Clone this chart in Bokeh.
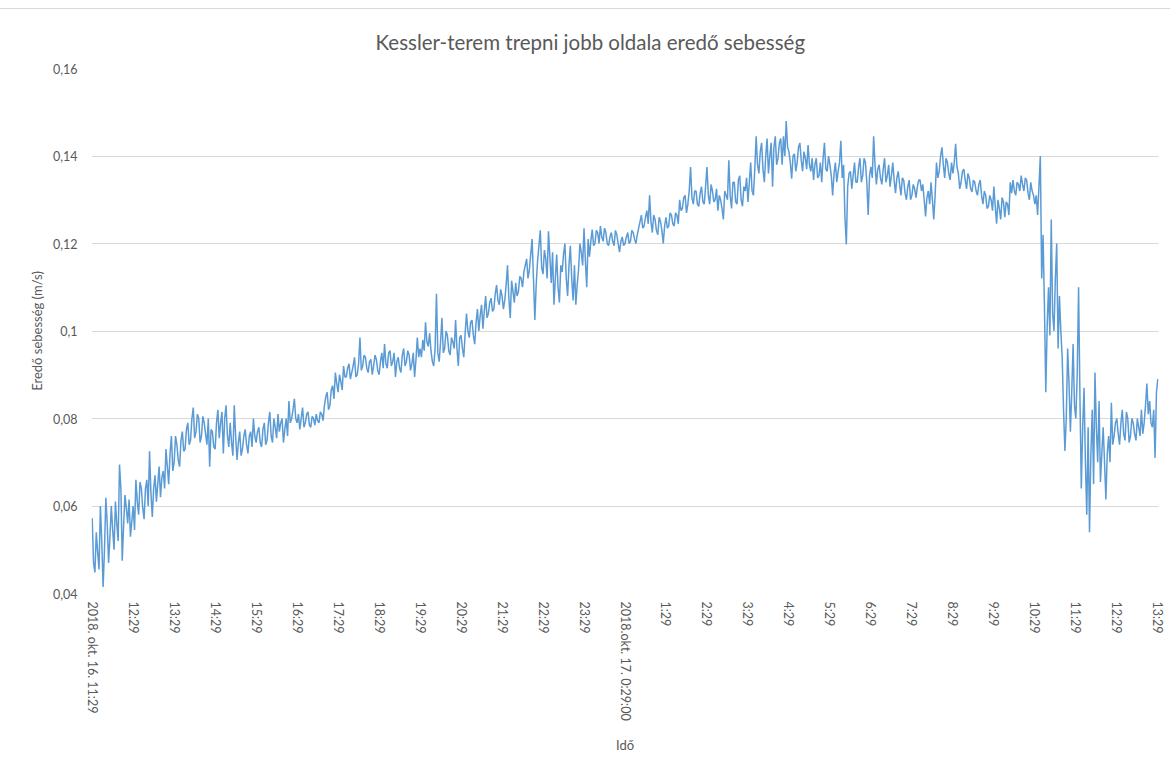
from bokeh.plotting import figure
from bokeh.models import Range1d, FixedTicker, ColumnDataSource, Div
from bokeh.layouts import column
from bokeh.embed import file_html
from bokeh.resources import INLINE

# Resultant air speed (m/s), one reading every 2 minutes from 2018-10-16 11:29;
# each pair of rows holds one hour of readings
speed_oct16 = [
    0.0572, 0.0470, 0.0448, 0.0540, 0.0495, 0.0455, 0.0600, 0.0520, 0.0415, 0.0500, 0.0619, 0.0560, 0.0470, 0.0530, 0.0600,
    0.0545, 0.0500, 0.0610, 0.0560, 0.0520, 0.0695, 0.0640, 0.0475, 0.0555, 0.0625, 0.0595, 0.0560, 0.0615, 0.0530, 0.0565,
    0.0600, 0.0545, 0.0660, 0.0610, 0.0580, 0.0655, 0.0640, 0.0595, 0.0570, 0.0640, 0.0660, 0.0600, 0.0725, 0.0630, 0.0575,
    0.0640, 0.0670, 0.0610, 0.0650, 0.0690, 0.0620, 0.0665, 0.0680, 0.0640, 0.0730, 0.0690, 0.0650, 0.0720, 0.0760, 0.0680,
    0.0700, 0.0760, 0.0740, 0.0705, 0.0690, 0.0750, 0.0770, 0.0725, 0.0730, 0.0775, 0.0790, 0.0740, 0.0750, 0.0800, 0.0825,
    0.0755, 0.0770, 0.0810, 0.0800, 0.0745, 0.0760, 0.0805, 0.0790, 0.0765, 0.0740, 0.0800, 0.0690, 0.0775, 0.0770, 0.0735,
    0.0730, 0.0790, 0.0820, 0.0755, 0.0790, 0.0815, 0.0720, 0.0800, 0.0830, 0.0760, 0.0735, 0.0790, 0.0745, 0.0715, 0.0830,
    0.0760, 0.0705, 0.0745, 0.0770, 0.0715, 0.0730, 0.0760, 0.0775, 0.0740, 0.0720, 0.0760, 0.0770, 0.0735, 0.0800, 0.0760,
    0.0745, 0.0770, 0.0780, 0.0745, 0.0735, 0.0775, 0.0790, 0.0740, 0.0750, 0.0790, 0.0815, 0.0760, 0.0745, 0.0800, 0.0780,
    0.0755, 0.0810, 0.0770, 0.0790, 0.0800, 0.0745, 0.0775, 0.0800, 0.0760, 0.0840, 0.0790, 0.0800, 0.0820, 0.0845, 0.0800,
    0.0790, 0.0810, 0.0775, 0.0800, 0.0825, 0.0780, 0.0790, 0.0810, 0.0815, 0.0785, 0.0780, 0.0805, 0.0800, 0.0785, 0.0810,
    0.0795, 0.0790, 0.0815, 0.0810, 0.0795, 0.0830, 0.0850, 0.0860, 0.0820, 0.0830, 0.0865, 0.0875, 0.0845, 0.0905, 0.0880,
    0.0860, 0.0900, 0.0885, 0.0865, 0.0920, 0.0895, 0.0895, 0.0915, 0.0925, 0.0890, 0.0905, 0.0920, 0.0940, 0.0895, 0.0900,
    0.0925, 0.0985, 0.0910, 0.0920, 0.0945, 0.0940, 0.0915, 0.0905, 0.0930, 0.0935, 0.0900, 0.0920, 0.0945, 0.0935, 0.0910,
    0.0900, 0.0930, 0.0950, 0.0915, 0.0970, 0.0925, 0.0915, 0.0950, 0.0955, 0.0920, 0.0930, 0.0950, 0.0895, 0.0930, 0.0940,
    0.0915, 0.0905, 0.0945, 0.0960, 0.0920, 0.0930, 0.0955, 0.0945, 0.0910, 0.0925, 0.0950, 0.0895, 0.0935, 0.0985, 0.0940,
    0.0960, 0.0940, 0.0980, 0.0955, 0.1020, 0.0975, 0.0965, 0.0995, 0.0955, 0.0930, 0.0920, 0.0960, 0.1085, 0.0950, 0.0930,
    0.0975, 0.1030, 0.0950, 0.0960, 0.1000, 0.0990, 0.0955, 0.0945, 0.0985, 0.0975, 0.0960, 0.1025, 0.0960, 0.0920, 0.0985,
    0.0990, 0.0960, 0.0940, 0.0995, 0.1040, 0.1000, 0.0985, 0.1020, 0.1025, 0.0990, 0.0970, 0.1020, 0.1050, 0.1000, 0.1035,
    0.1060, 0.1005, 0.1045, 0.1080, 0.1030, 0.1040, 0.1065, 0.1075, 0.1045, 0.1050, 0.1085, 0.1105, 0.1070, 0.1060, 0.1095,
    0.1080, 0.1050, 0.1070, 0.1105, 0.1150, 0.1075, 0.1030, 0.1115, 0.1090, 0.1065, 0.1110, 0.1080, 0.1090, 0.1125, 0.1120,
    0.1100, 0.1135, 0.1150, 0.1165, 0.1120, 0.1140, 0.1175, 0.1210, 0.1120, 0.1025, 0.1105, 0.1160, 0.1195, 0.1230, 0.1145,
    0.1130, 0.1185, 0.1165, 0.1120, 0.1228, 0.1170, 0.1110, 0.1180, 0.1060, 0.1120, 0.1175, 0.1100, 0.1065, 0.1150, 0.1135,
    0.1175, 0.1200, 0.1120, 0.1080, 0.1150, 0.1195, 0.1120, 0.1070, 0.1150, 0.1060, 0.1105, 0.1140, 0.1200, 0.1180, 0.1150,
    0.1235, 0.1160, 0.1100, 0.1210, 0.1170, 0.1205, 0.1232, 0.1195, 0.1200, 0.1230, 0.1225, 0.1200, 0.1240, 0.1215, 0.1205,
    0.1235, 0.1225, 0.1200, 0.1195, 0.1215, 0.1225, 0.1205, 0.1195, 0.1230, 0.1220, 0.1200, 0.1180, 0.1205, 0.1215, 0.1195,
]

# Continuation from 2018-10-17 0:29 to 13:29
speed_oct17 = [
    0.1200, 0.1215, 0.1225, 0.1200, 0.1205, 0.1230, 0.1225, 0.1210, 0.1200, 0.1220, 0.1235, 0.1250, 0.1265, 0.1235, 0.1240,
    0.1260, 0.1275, 0.1245, 0.1310, 0.1250, 0.1225, 0.1265, 0.1255, 0.1230, 0.1220, 0.1260, 0.1250, 0.1230, 0.1200, 0.1240,
    0.1260, 0.1235, 0.1240, 0.1270, 0.1265, 0.1245, 0.1240, 0.1270, 0.1265, 0.1245, 0.1300, 0.1275, 0.1280, 0.1305, 0.1310,
    0.1270, 0.1290, 0.1320, 0.1375, 0.1305, 0.1290, 0.1320, 0.1320, 0.1290, 0.1285, 0.1315, 0.1330, 0.1295, 0.1290, 0.1330,
    0.1375, 0.1310, 0.1290, 0.1335, 0.1320, 0.1295, 0.1300, 0.1325, 0.1275, 0.1310, 0.1300, 0.1280, 0.1255, 0.1320, 0.1310,
    0.1300, 0.1390, 0.1310, 0.1280, 0.1340, 0.1340, 0.1295, 0.1290, 0.1345, 0.1355, 0.1300, 0.1285, 0.1330, 0.1320, 0.1350,
    0.1295, 0.1340, 0.1385, 0.1320, 0.1310, 0.1370, 0.1445, 0.1380, 0.1360, 0.1410, 0.1430, 0.1370, 0.1340, 0.1400, 0.1440,
    0.1360, 0.1400, 0.1430, 0.1330, 0.1420, 0.1445, 0.1380, 0.1395, 0.1430, 0.1440, 0.1380, 0.1445, 0.1400, 0.1480, 0.1420,
    0.1410, 0.1385, 0.1348, 0.1400, 0.1405, 0.1365, 0.1385, 0.1420, 0.1430, 0.1390, 0.1365, 0.1410, 0.1395, 0.1370, 0.1425,
    0.1380, 0.1365, 0.1395, 0.1345, 0.1380, 0.1395, 0.1350, 0.1355, 0.1385, 0.1340, 0.1395, 0.1430, 0.1370, 0.1365, 0.1400,
    0.1380, 0.1355, 0.1310, 0.1360, 0.1385, 0.1340, 0.1365, 0.1385, 0.1435, 0.1350, 0.1380, 0.1260, 0.1198, 0.1330, 0.1360,
    0.1365, 0.1325, 0.1355, 0.1385, 0.1340, 0.1340, 0.1375, 0.1395, 0.1340, 0.1355, 0.1395, 0.1385, 0.1340, 0.1265, 0.1355,
    0.1375, 0.1350, 0.1445, 0.1380, 0.1335, 0.1370, 0.1380, 0.1350, 0.1335, 0.1370, 0.1395, 0.1340, 0.1355, 0.1380, 0.1330,
    0.1355, 0.1385, 0.1345, 0.1315, 0.1350, 0.1365, 0.1335, 0.1310, 0.1350, 0.1345, 0.1315, 0.1300, 0.1330, 0.1345, 0.1300,
    0.1310, 0.1335, 0.1325, 0.1305, 0.1330, 0.1345, 0.1345, 0.1320, 0.1335, 0.1300, 0.1262, 0.1305, 0.1320, 0.1290, 0.1340,
    0.1300, 0.1255, 0.1310, 0.1385, 0.1350, 0.1365, 0.1400, 0.1420, 0.1380, 0.1350, 0.1395, 0.1385, 0.1360, 0.1345, 0.1385,
    0.1360, 0.1385, 0.1428, 0.1375, 0.1360, 0.1325, 0.1340, 0.1365, 0.1370, 0.1345, 0.1325, 0.1360, 0.1350, 0.1325, 0.1318,
    0.1345, 0.1340, 0.1320, 0.1310, 0.1335, 0.1345, 0.1310, 0.1290, 0.1320, 0.1310, 0.1280, 0.1285, 0.1310, 0.1300, 0.1275,
    0.1330, 0.1285, 0.1245, 0.1300, 0.1280, 0.1255, 0.1305, 0.1295, 0.1260, 0.1295, 0.1290, 0.1265, 0.1340, 0.1315, 0.1345,
    0.1320, 0.1310, 0.1340, 0.1335, 0.1320, 0.1355, 0.1335, 0.1320, 0.1350, 0.1345, 0.1315, 0.1300, 0.1340, 0.1320, 0.1310,
    0.1290, 0.1310, 0.1265, 0.1330, 0.1400, 0.1120, 0.1220, 0.1060, 0.0860, 0.1010, 0.1100, 0.0990, 0.1255, 0.1040, 0.1000,
    0.1120, 0.1200, 0.0960, 0.1080, 0.1000, 0.0940, 0.0820, 0.0726, 0.0800, 0.0960, 0.0880, 0.0770, 0.0860, 0.0970, 0.0830,
    0.0800, 0.0900, 0.1100, 0.0850, 0.0640, 0.0780, 0.0870, 0.0700, 0.0580, 0.0780, 0.0540, 0.0720, 0.0820, 0.0650, 0.0905,
    0.0780, 0.0700, 0.0840, 0.0655, 0.0720, 0.0780, 0.0700, 0.0615, 0.0720, 0.0760, 0.0700, 0.0836, 0.0740, 0.0760, 0.0790,
    0.0800, 0.0765, 0.0740, 0.0790, 0.0820, 0.0765, 0.0750, 0.0815, 0.0800, 0.0745, 0.0760, 0.0800, 0.0790, 0.0765, 0.0750,
    0.0800, 0.0780, 0.0760, 0.0820, 0.0765, 0.0790, 0.0830, 0.0880, 0.0810, 0.0840, 0.0790, 0.0780, 0.0820, 0.0710, 0.0860,
    0.0890,
]

SAMPLE_STEP_MIN = 2

# Category labels shown every 60 minutes along the time axis
x_tick_labels = [
    "2018. okt. 16. 11:29", "12:29", "13:29", "14:29", "15:29", "16:29", "17:29",
    "18:29", "19:29", "20:29", "21:29", "22:29", "23:29", "2018.okt. 17. 0:29:00",
    "1:29", "2:29", "3:29", "4:29", "5:29", "6:29", "7:29", "8:29", "9:29",
    "10:29", "11:29", "12:29", "13:29",
]
y_ticks = [0.04, 0.06, 0.08, 0.10, 0.12, 0.14, 0.16]
y_tick_labels = ["0,04", "0,06", "0,08", "0,1", "0,12", "0,14", "0,16"]

speed = speed_oct16 + speed_oct17
minutes = [i * SAMPLE_STEP_MIN for i in range(len(speed))]
x_ticks = [i * 60 for i in range(len(x_tick_labels))]

source = ColumnDataSource(data=dict(t=minutes, v=speed))

TEXT = "#595959"
FONT = "Lato"

p = figure(
    frame_width=1067, frame_height=525,
    min_border_left=91, min_border_right=12,
    min_border_top=59, min_border_bottom=171,
    x_range=Range1d(-1, x_ticks[-1] + 1),
    y_range=Range1d(y_ticks[0], y_ticks[-1]),
    output_backend="svg", toolbar_location=None,
    title="Kessler-terem trepni jobb oldala eredő sebesség",
)
p.line("t", "v", source=source, line_color="#5B9BD5", line_width=1.5)

p.title.text_font = FONT
p.title.text_font_size = "20.5px"
p.title.text_font_style = "normal"
p.title.text_color = TEXT
p.title.align = "left"
p.title.offset = 284
p.title.standoff = 30

p.outline_line_color = None
p.background_fill_color = "white"
p.border_fill_color = "white"

p.xgrid.grid_line_color = None
p.ygrid.grid_line_color = "#d9d9d9"
p.ygrid.grid_line_width = 1

xa = p.xaxis[0]
xa.ticker = FixedTicker(ticks=x_ticks)
xa.major_label_overrides = {t: lab for t, lab in zip(x_ticks, x_tick_labels)}
xa.major_label_orientation = "vertical"
xa.axis_label = "Idő"
xa.major_label_standoff = 8
xa.axis_label_standoff = 13

ya = p.yaxis[0]
ya.ticker = FixedTicker(ticks=y_ticks)
ya.major_label_overrides = {t: lab for t, lab in zip(y_ticks, y_tick_labels)}
ya.axis_label = "Eredő sebesség (m/s)"
ya.major_label_standoff = 14
ya.axis_label_standoff = 5

for ax in (xa, ya):
    ax.axis_line_color = None
    ax.major_tick_line_color = None
    ax.minor_tick_line_color = None
    ax.major_tick_in = 0
    ax.major_tick_out = 0
    ax.minor_tick_in = 0
    ax.minor_tick_out = 0
    ax.major_label_text_font = FONT
    ax.major_label_text_font_size = "12.5px"
    ax.major_label_text_color = TEXT
    ax.axis_label_text_font = FONT
    ax.axis_label_text_font_size = "13px"
    ax.axis_label_text_font_style = "normal"
    ax.axis_label_text_color = TEXT

top_rule = Div(text="", width=1170, height=9, margin=0,
               styles={"border-bottom": "1px solid #d9d9d9"})

layout = column(top_rule, p, spacing=0)

open("out.html", "w").write(file_html(layout, INLINE))
